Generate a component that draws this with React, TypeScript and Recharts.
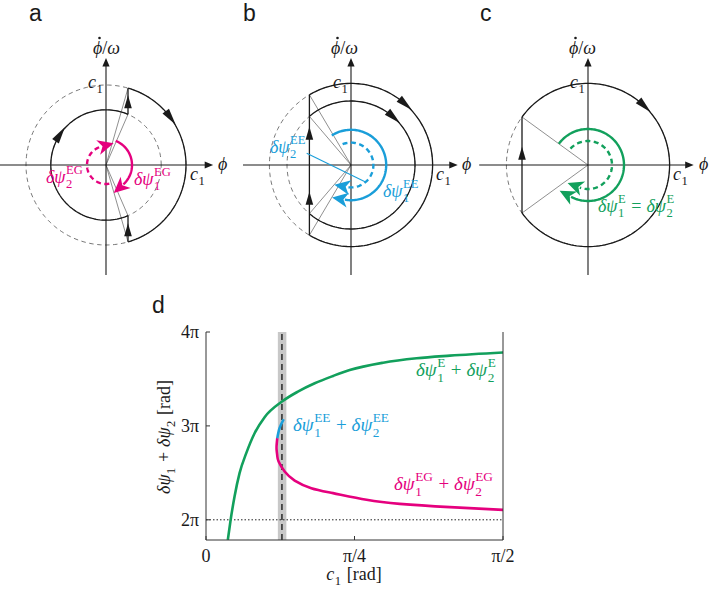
import React from 'react';
import {
  ComposedChart, Line, XAxis, YAxis, ReferenceArea, ReferenceLine,
  ScatterChart, Scatter,
} from 'recharts';

// ---------------- Panel d data (c1 in rad, sums in units of pi) ----------------
const greenC = [0.1155, 0.1298, 0.151, 0.1775, 0.213, 0.257, 0.31, 0.4016, 0.486, 0.575, 0.672, 0.76, 0.937, 1.114, 1.29, 1.571];
const greenV = [1.787, 1.993, 2.248, 2.497, 2.71, 2.922, 3.093, 3.259, 3.365, 3.454, 3.532, 3.595, 3.673, 3.72, 3.748, 3.782];
const cyanC = [0.377, 0.389, 0.4106];
const cyanV = [2.869, 2.976, 3.071];
const magC = [0.377, 0.3737, 0.3735, 0.377, 0.384, 0.416, 0.469, 0.557, 0.672, 0.849, 1.025, 1.29, 1.571];
const magV = [2.869, 2.8, 2.745, 2.68, 2.62, 2.514, 2.418, 2.337, 2.284, 2.213, 2.17, 2.135, 2.106];
const bandC = [0.38, 0.425];
const criticalC = 0.4016;
const levelV = 2;
const xTicks = [0, Math.PI / 4, Math.PI / 2];
const xTickLabels = ['0', 'π/4', 'π/2'];
const yTicks = [2, 3, 4];
const yTickLabels = ['2π', '3π', '4π'];
const xDomain = [0, Math.PI / 2];
const yDomain = [1.785, 4];

// ---------------- Panels a-c geometry (radius of c1 orbit ~ 1) ----------------
// a
const aGuideR = [1.0, 0.69];
const aOrbits = [[1.0, 74, -74], [0.69, -66.5, -293.5]];
const aKicks = [[0.275, -0.96, -0.633], [0.275, 0.633, 0.96]];
const aRays = [[0.275, 0.96], [0.275, 0.633], [0.275, -0.633], [0.275, -0.96]];
const aFlow = [[1.0, 36], [0.69, 146]];
const aKickArrows = [[0.275, 0.79], [0.275, -0.81]];
const aSolid = [0.325, 68, -48];
const aDash = [0.2375, -80, -255];
const aHAxis = [-1.33, 1.34];
// b
const bGuideR = [1.02, 0.8];
const bOrbits = [[1.02, 120.6, -120.6], [0.8, 130.5, -130.5]];
const bKicks = [[-0.52, -0.878, 0.878]];
const bRays = [[-0.52, 0.878], [-0.52, 0.608], [-0.52, -0.608], [-0.52, -0.878]];
const bFlow = [[1.02, 48], [0.8, 48]];
const bKickArrows = [[-0.52, 0.396], [-0.52, -0.417]];
const bSolid = [0.44, 123, -100];
const bDash = [0.28, 112, -100];
const bLeader = [[-0.554, 0.146], [0.175, -0.209]];
const bHAxis = [-1.35, 1.334];
// c
const cGuideR = [1.02];
const cOrbits = [[1.02, 144, -144]];
const cKicks = [[-0.825, -0.6, 0.6]];
const cRays = [[-0.825, 0.6], [-0.825, -0.6]];
const cFlow = [[1.02, 46]];
const cKickArrows = [[-0.825, 0.146]];
const cSolid = [0.45, 144, -118];
const cDash = [0.3, 137, -110];
const cHAxis = [-1.36, 1.321];
const vAxis = [-1.375, 1.3375];

// ---------------- styling ----------------
const SERIF = "'Liberation Serif', 'DejaVu Serif', serif";
const SANS = "'Liberation Sans', Arial, sans-serif";
const MAGENTA = '#e5007e';
const CYAN = '#1a9ed9';
const GREEN = '#12a05c';
const INK = '#1a1a1a';
const SC = 80;
const OY = 165;
const DH = 300;

function arcPts(r: number, from: number, to: number) {
  const n = Math.max(2, Math.ceil(Math.abs(to - from) / 2) + 1);
  const pts: { x: number; y: number }[] = [];
  for (let k = 0; k < n; k++) {
    const a = ((from + ((to - from) * k) / (n - 1)) * Math.PI) / 180;
    pts.push({ x: r * Math.cos(a), y: r * Math.sin(a) });
  }
  return pts;
}
function cwRot(deg: number) {
  const a = (deg * Math.PI) / 180;
  return (Math.atan2(Math.cos(a), Math.sin(a)) * 180) / Math.PI;
}
function polar(r: number, deg: number) {
  const a = (deg * Math.PI) / 180;
  return { x: r * Math.cos(a), y: r * Math.sin(a) };
}

const EmptyShape = () => <g />;

function ArrowShape(props: any) {
  const { cx, cy, payload } = props;
  if (cx == null || cy == null || !payload) return <g />;
  const { rot, kind, color } = payload;
  let d = '';
  if (kind === 'axis') d = 'M0,0 L-8.5,3.6 L-8.5,-3.6 Z';
  else if (kind === 'flow') d = 'M8.5,0 L-8.5,4 L-8.5,-4 Z';
  else if (kind === 'kick') d = 'M6.5,0 L-6.5,3.8 L-6.5,-3.8 Z';
  else d = 'M13,0 L-3,7.5 L1.5,0 L-3,-7.5 Z';
  return <path d={d} transform={`translate(${cx},${cy}) rotate(${rot})`} fill={color} stroke="none" />;
}

type Spec = {
  guides: number[];
  orbits: number[][];
  kicks: number[][];
  rays: number[][];
  flow: number[][];
  kickArrows: number[][];
  solid: number[];
  dash: number[];
  color: string;
  hAxis: number[];
  leader?: number[][];
};

const specA: Spec = { guides: aGuideR, orbits: aOrbits, kicks: aKicks, rays: aRays, flow: aFlow, kickArrows: aKickArrows, solid: aSolid, dash: aDash, color: MAGENTA, hAxis: aHAxis };
const specB: Spec = { guides: bGuideR, orbits: bOrbits, kicks: bKicks, rays: bRays, flow: bFlow, kickArrows: bKickArrows, solid: bSolid, dash: bDash, color: CYAN, hAxis: bHAxis, leader: bLeader };
const specC: Spec = { guides: cGuideR, orbits: cOrbits, kicks: cKicks, rays: cRays, flow: cFlow, kickArrows: cKickArrows, solid: cSolid, dash: cDash, color: GREEN, hAxis: cHAxis };

function Diagram({ left, width, ox, spec }: { left: number; width: number; ox: number; spec: Spec }) {
  const xd = [-ox / SC, (width - ox) / SC];
  const yd = [-(DH - OY) / SC, OY / SC];
  type PL = { pts: { x: number; y: number }[]; stroke: string; w: number; dash?: string };
  const lines: PL[] = [];
  spec.guides.forEach((r) => lines.push({ pts: arcPts(r, 0, 360), stroke: '#555', w: 0.8, dash: '4.5 3.5' }));
  spec.rays.forEach(([x, y]) => lines.push({ pts: [{ x: 0, y: 0 }, { x, y }], stroke: '#444', w: 0.6 }));
  spec.orbits.forEach(([r, f, t]) => lines.push({ pts: arcPts(r, f, t), stroke: INK, w: 1.3 }));
  spec.kicks.forEach(([x, y0, y1]) => lines.push({ pts: [{ x, y: y0 }, { x, y: y1 }], stroke: INK, w: 1.3 }));
  lines.push({ pts: [{ x: spec.hAxis[0], y: 0 }, { x: spec.hAxis[1] - 0.05, y: 0 }], stroke: INK, w: 1.1 });
  lines.push({ pts: [{ x: 0, y: vAxis[0] }, { x: 0, y: vAxis[1] - 0.05 }], stroke: INK, w: 1.1 });
  if (spec.leader) lines.push({ pts: spec.leader.map(([x, y]) => ({ x, y })), stroke: spec.color, w: 1.1 });
  lines.push({ pts: arcPts(spec.dash[0], spec.dash[1], spec.dash[2]), stroke: spec.color, w: 2.4, dash: '5 3.5' });
  lines.push({ pts: arcPts(spec.solid[0], spec.solid[1], spec.solid[2]), stroke: spec.color, w: 2.4 });

  const arrows: any[] = [];
  arrows.push({ x: spec.hAxis[1], y: 0, rot: 0, kind: 'axis', color: INK });
  arrows.push({ x: 0, y: vAxis[1], rot: -90, kind: 'axis', color: INK });
  spec.flow.forEach(([r, deg]) => arrows.push({ ...polar(r, deg), rot: cwRot(deg), kind: 'flow', color: INK }));
  spec.kickArrows.forEach(([x, y]) => arrows.push({ x, y, rot: -90, kind: 'kick', color: INK }));
  arrows.push({ ...polar(spec.solid[0], spec.solid[2]), rot: cwRot(spec.solid[2]), kind: 'barb', color: spec.color });
  arrows.push({ ...polar(spec.dash[0], spec.dash[2]), rot: cwRot(spec.dash[2]), kind: 'barb', color: spec.color });

  return (
    <div style={{ position: 'absolute', left, top: 0 }}>
      <ScatterChart width={width} height={DH} margin={{ top: 0, right: 0, bottom: 0, left: 0 }}>
        <XAxis type="number" dataKey="x" domain={xd} hide allowDataOverflow />
        <YAxis type="number" dataKey="y" domain={yd} hide allowDataOverflow />
        {lines.map((l, i) => (
          <Scatter
            key={i}
            data={l.pts}
            line={{ stroke: l.stroke, strokeWidth: l.w, strokeDasharray: l.dash, fill: 'none' }}
            lineType="joint"
            shape={EmptyShape}
            fill="none"
            isAnimationActive={false}
          />
        ))}
        <Scatter data={arrows} shape={ArrowShape} isAnimationActive={false} />
      </ScatterChart>
    </div>
  );
}

// ---------------- math text helper ----------------
type Seg = { i?: string; t?: string; sup?: string; sub?: string; pad?: number };
const TW: Record<string, number> = { E: 0.611, G: 0.722, '1': 0.5, '2': 0.5 };
function tw(s: string, size: number) {
  let w = 0;
  for (const ch of s) w += (TW[ch] ?? 0.55) * size;
  return w;
}
function MathText({ x, y, segs, size = 18, fill = INK, anchor = 'start', rotate = 0 }: { x: number; y: number; segs: Seg[]; size?: number; fill?: string; anchor?: string; rotate?: number }) {
  const kids: any[] = [];
  let pdx = 0;
  let pdy = 0;
  segs.forEach((s, k) => {
    if (s.i !== undefined || s.t !== undefined) {
      const pad = s.pad ?? 0;
      kids.push(
        <tspan key={k} dx={pdx + pad} dy={pdy} fontStyle={s.i !== undefined ? 'italic' : 'normal'}>
          {s.i ?? s.t}
        </tspan>
      );
      pdx = pad;
      pdy = 0;
    } else {
      const ss = size * 0.7;
      const supW = s.sup ? tw(s.sup, ss) : 0;
      const subW = s.sub ? tw(s.sub, ss) : 0;
      let cur = 0;
      if (s.sup) {
        kids.push(<tspan key={k + 'p'} fontSize={ss} dx={pdx + 0.5} dy={pdy - 0.48 * size}>{s.sup}</tspan>);
        cur = -0.48 * size;
        pdx = 0;
        pdy = 0;
      }
      if (s.sub) {
        kids.push(<tspan key={k + 'b'} fontSize={ss} dx={pdx + (s.sup ? -supW : 0.5)} dy={pdy + 0.3 * size - cur}>{s.sub}</tspan>);
        cur = 0.3 * size;
      }
      pdx = s.sup && s.sub ? Math.max(0, supW - subW) + 0.5 : 0.5;
      pdy = -cur;
    }
  });
  return (
    <text
      x={x}
      y={y}
      fontFamily={SERIF}
      fontSize={size}
      fill={fill}
      textAnchor={anchor as any}
      transform={rotate ? `rotate(${rotate} ${x} ${y})` : undefined}
    >
      {kids}
    </text>
  );
}

const c1: Seg[] = [{ i: 'c' }, { sub: '1' }];
const phiDot: Seg[] = [{ i: '\u03D5' }, { t: '/' }, { i: 'ω' }];
const phi: Seg[] = [{ i: '\u03D5' }];
const sumSegs = (sup: string): Seg[] => [{ i: 'δψ' }, { sup, sub: '1' }, { t: '+', pad: 5 }, { i: 'δψ', pad: 0 }, { sup, sub: '2' }];

// time-derivative dot over phi (accent mark)
function PhiDotLabel({ x, y }: { x: number; y: number }) {
  return (
    <g>
      <MathText x={x} y={y} segs={phiDot} />
      <circle cx={x + 6.5} cy={y - 16} r={1.3} fill={INK} />
    </g>
  );
}

function Overlay() {
  return (
    <svg width={709} height={591} style={{ position: 'absolute', left: 0, top: 0, pointerEvents: 'none' }}>
      <text x={29} y={21} fontFamily={SANS} fontSize={23} fill={INK}>a</text>
      <text x={243} y={21} fontFamily={SANS} fontSize={23} fill={INK}>b</text>
      <text x={480} y={21} fontFamily={SANS} fontSize={23} fill={INK}>c</text>
      <text x={152} y={313} fontFamily={SANS} fontSize={23} fill={INK}>d</text>

      {/* panel a */}
      <MathText x={88} y={88} segs={c1} />
      <MathText x={190} y={180} segs={c1} />
      <PhiDotLabel x={93} y={54} />
      <MathText x={218} y={170} segs={phi} />
      <MathText x={46} y={183} segs={[{ i: 'δψ' }, { sup: 'EG', sub: '2' }]} fill={MAGENTA} />
      <MathText x={134} y={185} segs={[{ i: 'δψ' }, { sup: 'EG', sub: '1' }]} fill={MAGENTA} />
      {/* panel b */}
      <MathText x={333} y={88} segs={c1} />
      <MathText x={436} y={180} segs={c1} />
      <PhiDotLabel x={331} y={54} />
      <MathText x={462} y={170} segs={phi} />
      <MathText x={270} y={153} segs={[{ i: 'δψ' }, { sup: 'EE', sub: '2' }]} fill={CYAN} />
      <MathText x={383} y={197} segs={[{ i: 'δψ' }, { sup: 'EE', sub: '1' }]} fill={CYAN} />
      {/* panel c */}
      <MathText x={570} y={88} segs={c1} />
      <MathText x={673} y={180} segs={c1} />
      <PhiDotLabel x={569} y={54} />
      <MathText x={699} y={170} segs={phi} />
      <MathText x={598} y={212} segs={[{ i: 'δψ' }, { sup: 'E', sub: '1' }, { t: '=', pad: 5 }, { i: 'δψ' }, { sup: 'E', sub: '2' }]} fill={GREEN} />

      {/* panel d annotations */}
      <MathText x={416} y={376} size={19} segs={sumSegs('E')} fill={GREEN} />
      <MathText x={293} y={431} size={19} segs={sumSegs('EE')} fill={CYAN} />
      <MathText x={394} y={490} size={19} segs={sumSegs('EG')} fill={MAGENTA} />
      <MathText x={170} y={437} rotate={-90} anchor="middle" size={18} segs={[{ i: 'δψ' }, { sub: '1' }, { t: '+', pad: 5 }, { i: 'δψ' }, { sub: '2' }, { t: '[rad]', pad: 5 }]} />
      <MathText x={354} y={580} anchor="middle" size={18} segs={[{ i: 'c' }, { sub: '1' }, { t: '[rad]', pad: 5 }]} />
    </svg>
  );
}

const greenData = greenC.map((c, i) => ({ c, v: greenV[i] }));
const cyanData = cyanC.map((c, i) => ({ c, v: cyanV[i] }));
const magData = magC.map((c, i) => ({ c, v: magV[i] }));

const tickFont = { fontFamily: SERIF, fontSize: 18, fill: INK };

function PanelD() {
  return (
    <div style={{ position: 'absolute', left: 0, top: 280 }}>
      <ComposedChart width={709} height={311} margin={{ top: 52, right: 205, bottom: 21, left: 146 }}>
        <XAxis
          type="number"
          dataKey="c"
          domain={xDomain}
          ticks={xTicks}
          interval={0}
          tickFormatter={(v: number) => xTickLabels[xTicks.indexOf(v)] ?? ''}
          allowDataOverflow
          tickSize={-4}
          tickMargin={13}
          height={30}
          stroke="#333"
          tick={tickFont}
        />
        <XAxis xAxisId="top" orientation="top" type="number" domain={xDomain} height={0} tick={false} tickLine={false} allowDataOverflow stroke="#333" />
        <YAxis
          type="number"
          dataKey="v"
          domain={yDomain}
          ticks={yTicks}
          interval={0}
          tickFormatter={(v: number) => yTickLabels[yTicks.indexOf(v)] ?? ''}
          allowDataOverflow
          tickSize={-4}
          tickMargin={11}
          width={60}
          stroke="#333"
          tick={tickFont}
        />
        <YAxis yAxisId="r" orientation="right" type="number" domain={yDomain} ticks={yTicks} interval={0} tick={false} tickSize={-4} width={1} allowDataOverflow stroke="#333" />
        <ReferenceArea x1={bandC[0]} x2={bandC[1]} fill="#c8c8c8" fillOpacity={1} stroke="none" />
        <ReferenceLine y={levelV} stroke="#222" strokeDasharray="1.5 2" strokeWidth={1} />
        <ReferenceLine x={criticalC} stroke="#333" strokeDasharray="6 4" strokeWidth={1.6} />
        <Line data={greenData} dataKey="v" type="monotone" stroke={GREEN} strokeWidth={2.6} dot={false} activeDot={false} isAnimationActive={false} />
        <Line data={magData} dataKey="v" type="natural" stroke={MAGENTA} strokeWidth={2.6} dot={false} activeDot={false} isAnimationActive={false} />
        <Line data={cyanData} dataKey="v" type="natural" stroke={CYAN} strokeWidth={2.6} dot={false} activeDot={false} isAnimationActive={false} />
      </ComposedChart>
    </div>
  );
}

export default function App() {
  return (
    <div style={{ position: 'absolute', left: 0, top: 0, width: 709, height: 591, background: '#fff', overflow: 'hidden' }}>
      <Diagram left={0} width={236} ox={106} spec={specA} />
      <Diagram left={236} width={236} ox={115} spec={specB} />
      <Diagram left={472} width={237} ox={116} spec={specC} />
      <PanelD />
      <Overlay />
    </div>
  );
}
